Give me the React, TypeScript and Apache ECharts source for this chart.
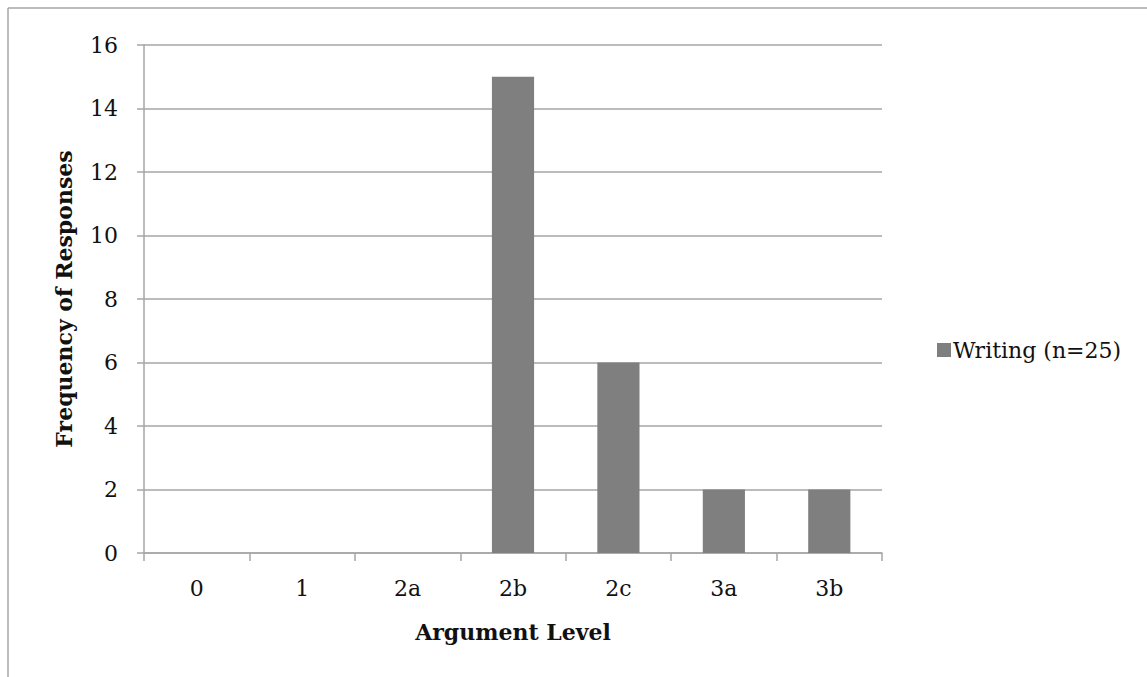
import React, { useEffect, useRef } from "react";
import * as echarts from "echarts";

const categories = ["0", "1", "2a", "2b", "2c", "3a", "3b"];
const writingValues = [0, 0, 0, 15, 6, 2, 2];
const seriesName = "Writing (n=25)";
const yTitle = "Frequency of Responses";
const xTitle = "Argument Level";

const FONT = "DejaVu Serif";
const GRID = "#a6a6a6";

export default function App() {
  const ref = useRef<HTMLDivElement>(null);
  useEffect(() => {
    if (!ref.current) return;
    const chart = echarts.init(ref.current, undefined, { renderer: "svg" });
    chart.setOption({
      animation: false,
      backgroundColor: "#ffffff",
      textStyle: { fontFamily: FONT },
      grid: { left: 144, right: 265, top: 45, bottom: 124, containLabel: false },
      legend: {
        show: true,
        orient: "vertical",
        left: 932,
        top: 334,
        itemWidth: 14,
        itemHeight: 14,
        itemGap: 6,
        icon: "rect",
        textStyle: { fontFamily: FONT, fontSize: 22, color: "#111", padding: [0, 0, 0, -3] },
        data: [seriesName],
      },
      xAxis: {
        type: "category",
        data: categories,
        name: xTitle,
        nameLocation: "middle",
        nameGap: 68,
        nameTextStyle: { fontFamily: FONT, fontSize: 22, fontWeight: "bold", color: "#111" },
        axisLine: { show: true, lineStyle: { color: GRID, width: 1.5 } },
        axisTick: { show: true, alignWithLabel: false, length: 8, lineStyle: { color: GRID, width: 1.5 } },
        axisLabel: { margin: 24, fontFamily: FONT, fontSize: 22, color: "#111" },
        splitLine: { show: false },
      },
      yAxis: {
        type: "value",
        min: 0,
        max: 16,
        interval: 2,
        name: yTitle,
        nameLocation: "middle",
        nameGap: 69,
        nameRotate: 90,
        nameTextStyle: { fontFamily: FONT, fontSize: 22, fontWeight: "bold", color: "#111" },
        axisLine: { show: true, lineStyle: { color: GRID, width: 1.5 } },
        axisTick: { show: true, length: 7, lineStyle: { color: GRID, width: 1.5 } },
        axisLabel: { margin: 26, fontFamily: FONT, fontSize: 22, color: "#111" },
        splitLine: { show: true, lineStyle: { color: GRID, width: 1.5 } },
      },
      series: [
        {
          name: seriesName,
          type: "bar",
          data: writingValues,
          barWidth: "40%",
          itemStyle: { color: "#7f7f7f" },
        },
      ],
      graphic: [
        { type: "line", shape: { x1: 8, y1: 8, x2: 1147, y2: 8 }, style: { stroke: GRID, lineWidth: 1.5 } },
        { type: "line", shape: { x1: 8, y1: 8, x2: 8, y2: 677 }, style: { stroke: GRID, lineWidth: 1.5 } },
      ],
    });
    return () => chart.dispose();
  }, []);
  return (
    <div
      ref={ref}
      style={{ position: "fixed", left: 0, top: 0, width: 1147, height: 677 }}
    />
  );
}
